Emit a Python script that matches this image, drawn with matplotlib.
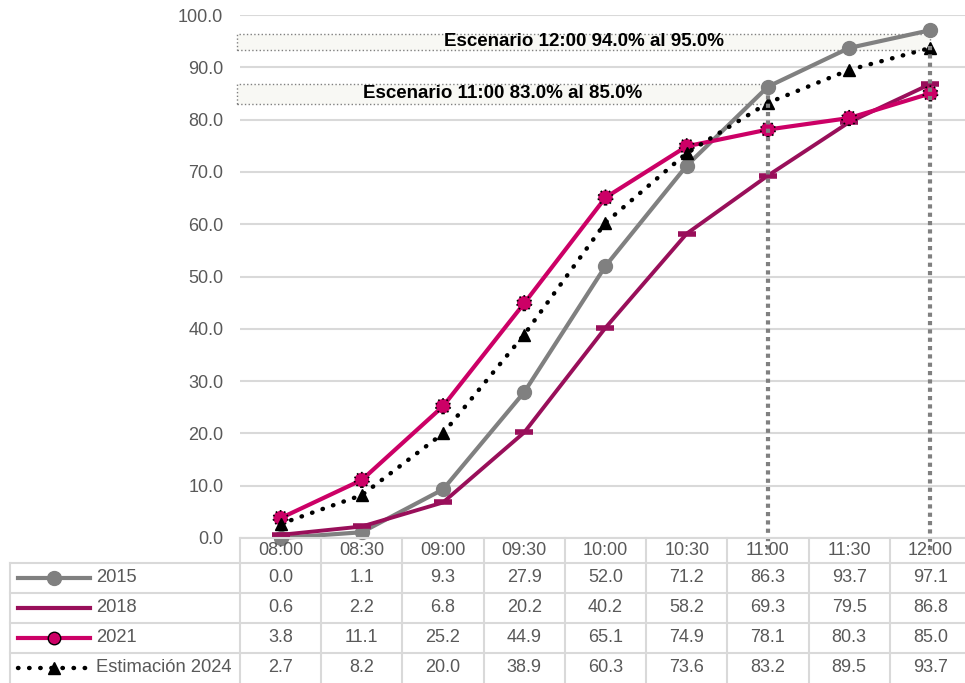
import matplotlib.pyplot as plt
from matplotlib.patches import Rectangle
from matplotlib.lines import Line2D

# ── Data ─────────────────────────────────────────────────────────────────────
horas = ["08:00", "08:30", "09:00", "09:30", "10:00", "10:30", "11:00", "11:30", "12:00"]
v2015 = [0.0, 1.1, 9.3, 27.9, 52.0, 71.2, 86.3, 93.7, 97.1]
v2018 = [0.6, 2.2, 6.8, 20.2, 40.2, 58.2, 69.3, 79.5, 86.8]
v2021 = [3.8, 11.1, 25.2, 44.9, 65.1, 74.9, 78.1, 80.3, 85.0]
v2024 = [2.7, 8.2, 20.0, 38.9, 60.3, 73.6, 83.2, 89.5, 93.7]
nombres = ["2015", "2018", "2021", "Estimación 2024"]
escenarios = ["Escenario 11:00 83.0% al 85.0%", "Escenario 12:00 94.0% al 95.0%"]

GRIS = "#808080"
VINO = "#990F5A"
ROSA = "#CC0066"
TXT = "#595959"
GRID = "#D9D9D9"

plt.rcParams["font.family"] = ["Liberation Sans", "DejaVu Sans"]

W, H = 965, 683
fig = plt.figure(figsize=(W / 100, H / 100), dpi=100)
ax = fig.add_axes([240 / W, (H - 538) / H, 731 / W, 523 / H])
x = list(range(len(horas)))

ax.set_xlim(-0.5, 8.5)
ax.set_ylim(0, 100)
ax.set_yticks(range(0, 101, 10))
ax.set_yticklabels([f"{v:.1f}" for v in range(0, 101, 10)], color=TXT, fontsize=13)
ax.tick_params(axis="y", length=0, pad=12)
ax.set_xticks([])
for s in ax.spines.values():
    s.set_visible(False)
ax.grid(axis="y", color=GRID, lw=1.5)
ax.set_axisbelow(True)

# ── Series ───────────────────────────────────────────────────────────────────
ax.plot(x, v2015, color=GRIS, lw=3, marker="o", ms=10, zorder=3, clip_on=False)
ax.plot(x, v2018, color=VINO, lw=2.8, marker="_", ms=13, mew=4, zorder=4, clip_on=False)
ax.plot(x, v2021, color=ROSA, lw=3, zorder=5, clip_on=False)
ax.scatter(x, v2021, s=110, facecolor=ROSA, edgecolor="black", linewidths=1.2,
           linestyle=":", zorder=6, clip_on=False)
ax.plot(x, v2024, color="black", lw=3.2, linestyle=(0, (0.1, 2.4)),
        dash_capstyle="round", marker="^", ms=9, zorder=7, clip_on=False)

# ── Scenario boxes and guide lines ──────────────────────────────────────────
cajas = [(6, 83.0, 86.8), (8, 93.3, 96.4)]
for (xi, y0, y1), txt in zip(cajas, escenarios):
    ax.add_patch(Rectangle((-0.54, y0), xi + 0.54, y1 - y0, facecolor="#F8F8F4",
                           edgecolor=GRIS, lw=1, linestyle=":", zorder=2, clip_on=False))
    ax.text((xi - 0.54) / 2, (y0 + y1) / 2, txt, ha="center", va="center",
            fontsize=13.5, fontweight="bold", color="black", zorder=8)
    ax.plot([xi, xi], [y0 + 0.8 if xi == 8 else y0 + 3.3, -3.3], color=GRIS, lw=3,
            linestyle=(0, (1, 1)), zorder=9, clip_on=False)

# ── Data table ───────────────────────────────────────────────────────────────
tab = fig.add_axes([240 / W, 0, 731 / W, 145 / H])
tab.set_xlim(-0.5, 8.5)
tab.set_ylim(145, 0)
tab.axis("off")
x_left = (10 - 240) / 81.25 - 0.5

for k in range(len(horas) + 1):
    tab.plot([k - 0.5, k - 0.5], [0, 145], color=GRID, lw=1.5, clip_on=False)
tab.plot([x_left, x_left], [25, 145], color=GRID, lw=1.5, clip_on=False)
tab.plot([-0.5, 8.5], [0, 0], color=GRID, lw=1.5, clip_on=False)
for yb in [25, 55, 85, 115]:
    tab.plot([x_left, 8.5], [yb, yb], color=GRID, lw=1.5, clip_on=False)

for i, h in enumerate(horas):
    tab.text(i, 12.5, h, ha="center", va="center", fontsize=13, color=TXT)

series = [v2015, v2018, v2021, v2024]
estilos = [
    dict(color=GRIS, lw=3, marker="o", ms=10),
    dict(color=VINO, lw=3),
    dict(color=ROSA, lw=3, marker="o", ms=9, mec="black", mew=1),
    dict(color="black", lw=3.2, linestyle=(0, (0.1, 2.4)), dash_capstyle="round",
         marker="^", ms=9),
]
lx0 = (18 - 240) / 81.25 - 0.5
lx1 = (90 - 240) / 81.25 - 0.5
for r, (nom, vals, est) in enumerate(zip(nombres, series, estilos)):
    yc = 40 + 30 * r
    tab.add_line(Line2D([lx0, lx1], [yc, yc], clip_on=False,
                        **{k: v for k, v in est.items() if k not in ("marker", "ms", "mec", "mew")}))
    if "marker" in est:
        tab.plot([(lx0 + lx1) / 2], [yc], marker=est["marker"], ms=est["ms"],
                 color=est["color"], mec=est.get("mec", est["color"]),
                 mew=est.get("mew", 1), clip_on=False, linestyle="none")
    tab.text((96 - 240) / 81.25 - 0.5, yc, nom, ha="left", va="center",
             fontsize=13.2, color=TXT, clip_on=False)
    for i, v in enumerate(vals):
        tab.text(i, yc, f"{v:.1f}", ha="center", va="center", fontsize=13, color=TXT)

fig.savefig("out.png", dpi=100)
